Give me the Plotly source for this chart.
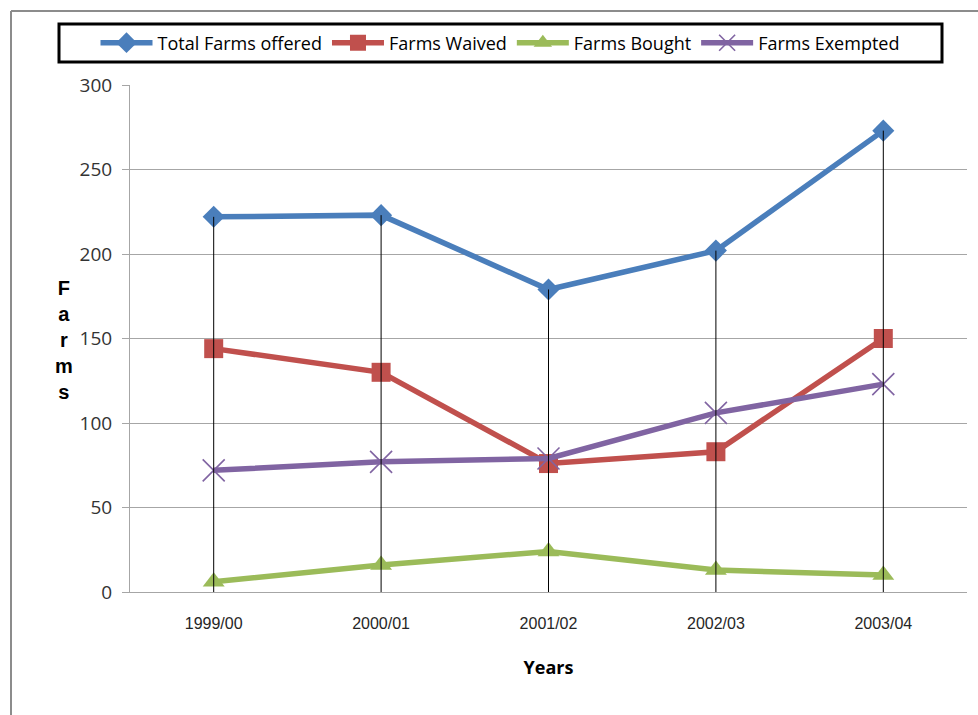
import plotly.graph_objects as go

years = ["1999/00", "2000/01", "2001/02", "2002/03", "2003/04"]
total_offered = [222, 223, 179, 202, 273]
farms_waived = [144, 130, 76, 83, 150]
farms_bought = [6, 16, 24, 13, 10]
farms_exempted = [72, 77, 79, 106, 123]
y_ticks = [0, 50, 100, 150, 200, 250, 300]

W, H = 978, 715
L, R, T, B = 130, 11, 85, 123
pw, ph = W - L - R, H - T - B

def px_x(p):
    return (p - L) / pw

def px_y(p):
    return (H - B - p) / ph

fig = go.Figure()

series = [
    ("Total Farms offered", total_offered, "#4A7EBB", "diamond", 17),
    ("Farms Waived", farms_waived, "#C0504D", "square", 19),
    ("Farms Bought", farms_bought, "#9BBB59", "triangle-up", 19),
    ("Farms Exempted", farms_exempted, "#8064A2", "x-thin", 22),
]
for name, vals, col, sym, sz in series:
    marker = dict(symbol=sym, size=sz, color=col)
    if sym == "x-thin":
        marker["line"] = dict(color=col, width=1.6)
    fig.add_trace(go.Scatter(
        x=years, y=vals, name=name, mode="lines+markers",
        line=dict(color=col, width=5.5), marker=marker,
    ))

# drop lines from highest value down to the axis
top = [max(v) for v in zip(total_offered, farms_waived, farms_bought, farms_exempted)]
dx, dy = [], []
for c, m in zip(years, top):
    dx += [c, c, None]
    dy += [0, m, None]
fig.add_trace(go.Scatter(x=dx, y=dy, mode="lines", line=dict(color="#000000", width=1),
                         showlegend=False, hoverinfo="skip"))

fig.update_layout(
    width=W, height=H, autosize=False,
    margin=dict(l=L, r=R, t=T, b=B),
    paper_bgcolor="white", plot_bgcolor="white",
    showlegend=True,
    legend=dict(orientation="h", x=px_x(500), xanchor="center", y=px_y(43), yanchor="middle",
                font=dict(family="Open Sans", size=18, color="#000000"),
                bgcolor="rgba(0,0,0,0)", borderwidth=0, traceorder="normal",
                itemwidth=52),
    xaxis=dict(type="category", range=[-0.5, 4.5], showgrid=False, showline=True,
               linecolor="#A6A6A6", linewidth=1, ticks="", ticklabelstandoff=17,
               tickfont=dict(family="Liberation Sans", size=16, color="#262626"),
               title=dict(text="<b>Years</b>", standoff=30,
                          font=dict(family="Open Sans", size=18, color="#000000"))),
    yaxis=dict(range=[0, 300], tickvals=y_ticks, showgrid=True, gridcolor="#A6A6A6",
               gridwidth=1, showline=True, linecolor="#A6A6A6", linewidth=1,
               ticks="outside", ticklen=7, tickcolor="#A6A6A6", zeroline=False,
               ticklabelstandoff=6,
               tickfont=dict(family="Open Sans", size=19, color="#333333")),
    shapes=[
        dict(type="rect", xref="paper", yref="paper", x0=px_x(59), x1=px_x(942),
             y0=px_y(62), y1=px_y(24), line=dict(color="black", width=3)),
        dict(type="line", xref="paper", yref="paper", x0=px_x(11), x1=px_x(990),
             y0=px_y(11), y1=px_y(11), line=dict(color="#8C8C8C", width=2)),
        dict(type="line", xref="paper", yref="paper", x0=px_x(11), x1=px_x(11),
             y0=px_y(11), y1=px_y(730), line=dict(color="#8C8C8C", width=2)),
    ],
    annotations=[
        dict(text="<b>F<br>a<br>r<br>m<br>s</b>", xref="paper", yref="paper",
             x=px_x(53), y=px_y(340), showarrow=False, align="center",
             font=dict(family="Liberation Sans", size=20, color="#000000")),
    ],
)

fig.write_html("out.html")
